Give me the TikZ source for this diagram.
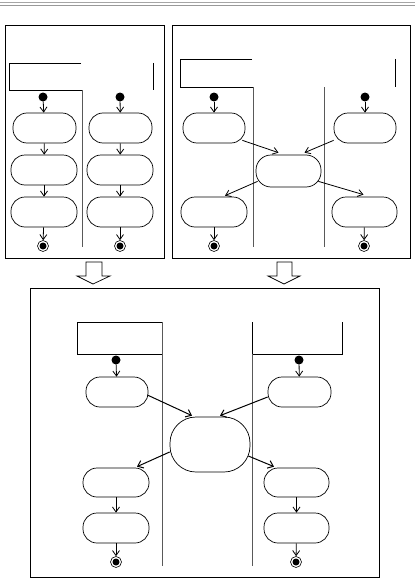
\documentclass[tikz,border=0pt]{standalone}
\usepackage{tikz}
\usetikzlibrary{arrows.meta}

\tikzset{
  panel/.style={draw=black,line width=0.9pt},
  lane/.style={draw=gray!70!black,line width=0.8pt},
  act/.style={draw,line width=0.7pt,rounded corners=14pt,minimum height=30pt,inner sep=0pt},
  startdot/.style={circle,fill=black,minimum size=9pt,inner sep=0pt},
  enddot/.style={circle,draw,line width=0.6pt,minimum size=11pt,inner sep=0pt,
    path picture={\fill (path picture bounding box.center) circle (3.5pt);}},
  flow/.style={line width=0.8pt,-{Straight Barb[length=5pt,width=7pt]}},
  bigflow/.style={line width=1pt,-{Straight Barb[length=5pt,width=8pt]}},
  blockarrow/.style={draw,line width=0.7pt,fill=white}
}

\begin{document}
\begin{tikzpicture}[x=1pt,y=-1pt]
\useasboundingbox (0,0) rectangle (415,578);

% header rule
\draw[gray!70,line width=1.3pt] (0,2.5) -- (415,2.5);
\draw[gray!80,line width=0.6pt] (0,5.5) -- (415,5.5);

% ---- top left panel
\draw[panel] (5,25) rectangle (164,258);
\draw[panel] (81,63) -- (9,63) -- (9,90) -- (82,90);
\draw[lane] (82,90) -- (82,247);
\draw[panel] (153,63) -- (153,90);

\node[startdot] (s1) at (43,97) {};
\node[startdot] (s2) at (120,97) {};
\node[act,minimum width=63pt] (a11) at (44.5,128) {};
\node[act,minimum width=66pt] (a12) at (44,170) {};
\node[act,minimum width=66pt] (a13) at (44,212) {};
\node[act,minimum width=63pt] (a21) at (120.5,128) {};
\node[act,minimum width=66pt] (a22) at (120,170) {};
\node[act,minimum width=66pt] (a23) at (120,212) {};
\node[enddot] (e1) at (43,246) {};
\node[enddot] (e2) at (120,246) {};

\draw[flow] (s1) -- (a11);
\draw[flow] (a11) -- (a12);
\draw[flow] (a12) -- (a13);
\draw[flow] (a13) -- (e1);
\draw[flow] (s2) -- (a21);
\draw[flow] (a21) -- (a22);
\draw[flow] (a22) -- (a23);
\draw[flow] (a23) -- (e2);

% ---- top right panel
\draw[panel] (172,25) rectangle (410,258);
\draw[panel] (252,59) -- (180,59) -- (180,87) -- (253,87);
\draw[lane] (253,87) -- (253,247);
\draw[lane] (324,87) -- (324,247);
\draw[panel] (395,59) -- (395,87);

\node[startdot] (s3) at (214,97) {};
\node[startdot] (s4) at (365,97) {};
\node[act,minimum width=62pt] (b1) at (214,128) {};
\node[act,minimum width=62pt] (b2) at (365,128) {};
\node[act,minimum width=65pt,minimum height=32pt,rounded corners=15pt] (bc) at (288.5,171) {};
\node[act,minimum width=66pt] (b3) at (214,212) {};
\node[act,minimum width=65pt] (b4) at (364.5,212) {};
\node[enddot] (e3) at (214,246) {};
\node[enddot] (e4) at (364,246) {};

\draw[flow] (s3) -- (b1);
\draw[flow] (s4) -- (b2);
\draw[flow] ([xshift=-3pt,yshift=3pt]b1.south east) -- ([xshift=-10pt,yshift=2pt]bc.north);
\draw[flow] ([yshift=3pt]b2.south west) -- ([xshift=16pt,yshift=2pt]bc.north);
\draw[flow] ([xshift=2pt,yshift=6pt]bc.south west) -- ([xshift=11pt,yshift=1pt]b3.north);
\draw[flow] ([xshift=-3pt,yshift=6pt]bc.south east) -- ([xshift=-1pt,yshift=2pt]b4.north);
\draw[flow] (b3) -- (e3);
\draw[flow] (b4) -- (e4);

% ---- merge arrows
\draw[blockarrow] (86,262) -- (102,262) -- (102,276) -- (110,276) -- (93,284)
  -- (77,276) -- (86,276) -- cycle;
\draw[blockarrow] (277,262) -- (292,262) -- (292,276) -- (300,276) -- (284,284)
  -- (268,276) -- (277,276) -- cycle;

% ---- bottom panel
\draw[panel] (30,288) rectangle (379,577);
\draw[panel] (162,322) -- (77,322) -- (77,354) -- (162,354);
\draw[lane] (162,322) -- (162,566);
\draw[panel] (252,322) -- (252,354) -- (342,354) -- (342,322);
\draw[lane] (252,354) -- (252,566);

\node[startdot] (s5) at (116,360) {};
\node[startdot] (s6) at (299,360) {};
\node[act,minimum width=62pt] (c1) at (117,392) {};
\node[act,minimum width=63pt] (c2) at (299.5,392) {};
\node[act,minimum width=80pt,minimum height=55pt,rounded corners=26pt] (cc) at (210,444.5) {};
\node[act,minimum width=66pt,minimum height=29pt] (c3) at (116,482.5) {};
\node[act,minimum width=66pt] (c4) at (116,528) {};
\node[act,minimum width=65pt,minimum height=29pt] (c5) at (296.5,482.5) {};
\node[act,minimum width=65pt] (c6) at (296.5,528) {};
\node[enddot] (e5) at (116,562) {};
\node[enddot] (e6) at (296,562) {};

\draw[flow] (s5) -- (c1);
\draw[flow] (s6) -- (c2);
\draw[bigflow] ([xshift=-1pt,yshift=-3pt]c1.east) -- ([xshift=-18pt,yshift=1pt]cc.north);
\draw[bigflow] ([yshift=-5pt]c2.west) -- ([xshift=10pt,yshift=1pt]cc.north);
\draw[bigflow] ([yshift=-7.5pt]cc.west) -- ([xshift=21pt,yshift=1pt]c3.north);
\draw[bigflow] ([xshift=-2pt,yshift=-11.5pt]cc.east) -- ([xshift=-22.5pt,yshift=1pt]c5.north);
\draw[flow] (c3) -- (c4);
\draw[flow] (c4) -- (e5);
\draw[flow] (c5) -- (c6);
\draw[flow] (c6) -- (e6);
\end{tikzpicture}
\end{document}
